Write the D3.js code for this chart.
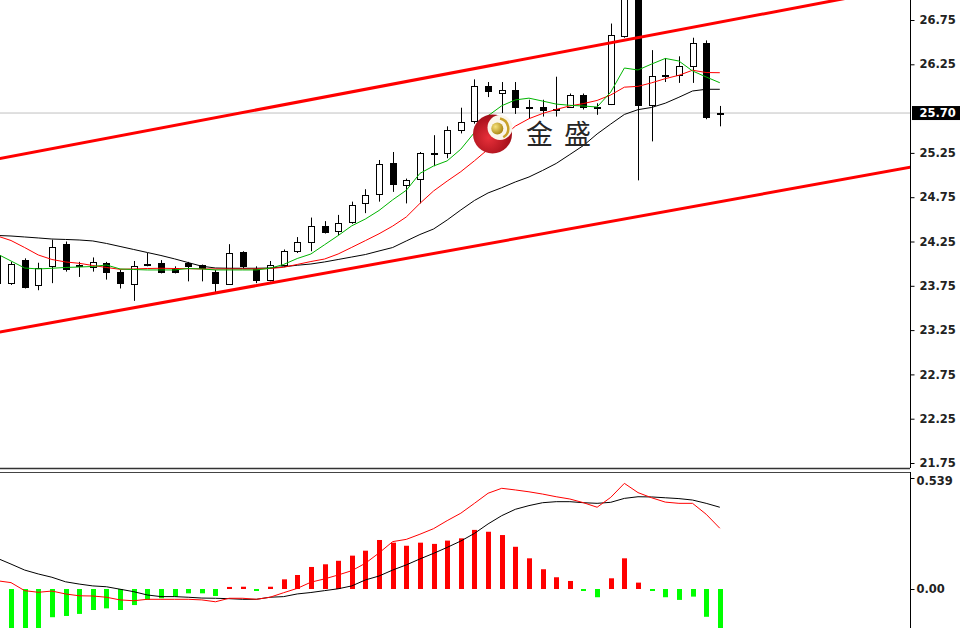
<!DOCTYPE html>
<html><head><meta charset="utf-8">
<script src="https://cdn.jsdelivr.net/npm/d3@7/dist/d3.min.js"></script>
<style>body{margin:0;background:#fff;} svg{display:block;}</style>
</head><body>
<svg id="c" width="960" height="628"></svg>
<script>
// ---- data (bar index -1 is the partly visible bar at the left edge) ----
const barIndex = d3.range(-1, 53);
const opens  = [24.10,23.78,24.04,23.76,23.97,24.22,23.98,23.96,24.01,23.91,23.77,23.98,24.01,23.95,24.01,23.98,23.91,23.77,24.13,23.94,23.82,23.99,24.14,24.25,24.42,24.37,24.47,24.68,24.79,25.14,24.89,24.95,25.24,25.25,25.51,25.61,26.00,25.93,25.96,25.77,25.77,25.73,25.77,25.90,25.77,25.80,26.57,27.10,25.79,26.12,26.13,26.23,26.49,25.69];
const highs  = [24.13,24.02,24.06,24.01,24.27,24.25,24.02,24.07,24.02,23.93,24.03,24.12,24.04,23.97,24.02,23.99,23.93,24.22,24.14,23.97,24.03,24.16,24.30,24.52,24.48,24.55,24.70,24.84,25.17,25.26,24.96,25.26,25.45,25.55,25.76,26.08,26.05,26.05,26.05,25.85,25.85,26.11,25.92,25.92,25.81,26.71,27.25,27.20,26.41,26.32,26.34,26.55,26.52,25.78];
const lows   = [23.75,23.76,23.72,23.70,23.78,23.91,23.85,23.91,23.82,23.72,23.58,23.97,23.89,23.89,23.80,23.80,23.68,23.76,23.95,23.78,23.80,23.97,24.12,24.14,24.34,24.32,24.45,24.57,24.70,24.81,24.68,24.68,25.10,25.19,25.47,25.58,25.88,25.70,25.69,25.64,25.66,25.66,25.76,25.74,25.68,25.79,26.55,24.94,25.38,26.05,26.04,26.04,25.63,25.55];
const closes = [23.78,24.00,23.74,23.95,24.19,23.94,23.97,24.02,23.91,23.78,23.97,24.00,23.91,23.91,23.97,23.95,23.78,24.12,23.97,23.82,23.99,24.14,24.25,24.42,24.36,24.46,24.66,24.77,25.13,24.90,24.94,25.25,25.25,25.51,25.60,26.00,25.95,25.96,25.77,25.76,25.73,25.75,25.90,25.77,25.76,26.58,27.10,25.79,26.12,26.13,26.23,26.49,25.66,25.70];
// moving averages
const maGreen = [24.109,24.030,23.951,23.940,23.948,23.957,23.962,23.968,23.985,23.940,23.934,23.929,23.929,23.929,23.945,23.940,23.929,23.929,23.929,23.929,23.948,23.991,24.058,24.109,24.213,24.317,24.427,24.504,24.600,24.720,24.828,25.019,25.102,25.160,25.292,25.480,25.669,25.782,25.848,25.868,25.835,25.801,25.787,25.779,25.768,25.937,26.208,26.186,26.253,26.316,26.287,26.175,26.107,26.042];
const maRed   = [24.312,24.261,24.182,24.098,24.047,24.019,24.004,23.979,23.957,23.936,23.940,23.945,23.948,23.945,23.943,23.940,23.940,23.940,23.940,23.940,23.945,23.959,23.991,24.024,24.052,24.109,24.184,24.260,24.337,24.424,24.527,24.680,24.820,24.932,25.038,25.161,25.291,25.418,25.552,25.636,25.695,25.741,25.780,25.807,25.842,25.904,25.992,26.001,26.041,26.088,26.126,26.183,26.157,26.155];
const maBlack = [24.318,24.312,24.301,24.290,24.278,24.273,24.267,24.256,24.228,24.194,24.160,24.126,24.092,24.054,24.012,23.971,23.951,23.948,23.948,23.948,23.951,23.965,23.982,23.996,24.019,24.047,24.075,24.103,24.143,24.182,24.256,24.329,24.391,24.493,24.606,24.713,24.798,24.857,24.922,24.978,25.052,25.131,25.232,25.334,25.464,25.576,25.684,25.738,25.763,25.811,25.878,25.949,25.968,25.968];
// MACD panel
const macdHist = [-0.272,-0.272,-0.248,-0.209,-0.137,-0.131,-0.121,-0.102,-0.094,-0.102,-0.078,-0.053,-0.045,-0.037,-0.021,-0.021,-0.034,0.010,0.011,-0.005,0.011,0.047,0.068,0.107,0.120,0.137,0.162,0.186,0.238,0.225,0.210,0.225,0.219,0.235,0.246,0.287,0.278,0.262,0.205,0.149,0.096,0.057,0.039,-0.008,-0.040,0.052,0.149,0.031,-0.008,-0.040,-0.053,-0.037,-0.135,-0.272];
const macdRed  = [0.040,0.031,-0.008,-0.016,-0.010,-0.024,-0.033,-0.034,-0.040,-0.053,-0.057,-0.050,-0.050,-0.050,-0.050,-0.053,-0.062,-0.045,-0.045,-0.050,-0.040,-0.018,0.003,0.033,0.049,0.068,0.089,0.125,0.175,0.230,0.241,0.266,0.293,0.332,0.368,0.416,0.465,0.489,0.481,0.472,0.461,0.448,0.437,0.419,0.397,0.445,0.513,0.468,0.443,0.422,0.416,0.416,0.363,0.295];
const macdBlack= [0.149,0.121,0.092,0.073,0.057,0.035,0.024,0.015,0.011,-0.001,-0.013,-0.029,-0.037,-0.037,-0.040,-0.044,-0.045,-0.047,-0.050,-0.050,-0.040,-0.037,-0.024,-0.017,-0.008,0.001,0.015,0.044,0.063,0.092,0.117,0.146,0.173,0.202,0.233,0.270,0.316,0.356,0.387,0.405,0.419,0.424,0.424,0.419,0.416,0.421,0.440,0.448,0.447,0.443,0.439,0.432,0.416,0.397];
// trend channel (bar index, price)
const upperChannel = [{i:-1, p:25.182},{i:66, p:27.133}];
const lowerChannel = [{i:-1, p:23.224},{i:66, p:25.089}];
const priceTicks = [26.75,26.25,25.25,24.75,24.25,23.75,23.25,22.75,22.25,21.75];
const lastPrice = 25.70;
const macdTicks = [0.539, 0];

// ---- scales ----
const svg = d3.select('#c');
const x = d3.scaleLinear().domain([0,52]).range([11,719.8]);
const y = d3.scaleLinear().domain([21.75,26.75]).range([463,20]);
const ym = d3.scaleLinear().domain([0,0.539]).range([589,478]);
const AX = 910;

const defs = svg.append('defs');
defs.append('clipPath').attr('id','clipMain').append('rect').attr('x',0).attr('y',0).attr('width',AX).attr('height',468);
defs.append('clipPath').attr('id','clipMacd').append('rect').attr('x',0).attr('y',473).attr('width',AX).attr('height',155);
const rg = defs.append('radialGradient').attr('id','redG').attr('cx','40%').attr('cy','60%').attr('r','65%');
rg.append('stop').attr('offset','0%').attr('stop-color','#e8303a');
rg.append('stop').attr('offset','100%').attr('stop-color','#9a0a14');
const gg = defs.append('radialGradient').attr('id','goldG').attr('cx','35%').attr('cy','35%').attr('r','70%');
gg.append('stop').attr('offset','0%').attr('stop-color','#f6e27a');
gg.append('stop').attr('offset','100%').attr('stop-color','#a88410');

const data = barIndex.map((i,k)=>({i, o:opens[k], h:highs[k], l:lows[k], c:closes[k]}));

// ---- main panel ----
const main = svg.append('g').attr('clip-path','url(#clipMain)');
main.append('line').attr('x1',0).attr('x2',AX).attr('y1',y(lastPrice)).attr('y2',y(lastPrice))
  .attr('stroke','#c0c0c0').attr('stroke-width',1);

const cg = main.append('g');
data.forEach(d=>{
  const X = Math.round(x(d.i));
  cg.append('line').attr('x1',X+0.5).attr('x2',X+0.5).attr('y1',y(d.h)).attr('y2',y(d.l))
    .attr('stroke','#000').attr('stroke-width',1);
  const top = Math.round(y(Math.max(d.o,d.c))), bot = Math.round(y(Math.min(d.o,d.c)));
  if (bot - top < 1) {
    cg.append('line').attr('x1',X-3).attr('x2',X+4).attr('y1',top+0.5).attr('y2',top+0.5)
      .attr('stroke','#000').attr('stroke-width',1);
  } else {
    cg.append('rect').attr('x',X-2.5).attr('y',top+0.5).attr('width',6).attr('height',bot-top)
      .attr('fill', d.c>=d.o ? '#fff' : '#000').attr('stroke','#000').attr('stroke-width',1);
  }
});

const line = d3.line().x((d,k)=>x(barIndex[k])).y(d=>y(d));
main.append('path').attr('d',line(maBlack)).attr('fill','none').attr('stroke','#000').attr('stroke-width',1);
main.append('path').attr('d',line(maRed)).attr('fill','none').attr('stroke','#ff0000').attr('stroke-width',1);
main.append('path').attr('d',line(maGreen)).attr('fill','none').attr('stroke','#00b400').attr('stroke-width',1);

const chLine = d3.line().x(d=>x(d.i)).y(d=>y(d.p));
[upperChannel, lowerChannel].forEach(ch=>{
  main.append('path').attr('d',chLine(ch)).attr('fill','none').attr('stroke','#ff0000').attr('stroke-width',3);
});

// logo watermark
const logo = svg.append('g');
logo.append('circle').attr('cx',492.5).attr('cy',134).attr('r',19.5).attr('fill','url(#redG)');
logo.append('circle').attr('cx',500).attr('cy',127.5).attr('r',12.5).attr('fill','#fbf6ea');
logo.append('path').attr('d',d3.arc()({innerRadius:9,outerRadius:11.5,startAngle:0.2,endAngle:2.6}))
  .attr('transform','translate(498,128.5)').attr('fill','#c9a22a');
logo.append('circle').attr('cx',497.3).attr('cy',128.5).attr('r',6).attr('fill','url(#goldG)');
logo.append('text').attr('x',526).attr('y',144).attr('font-family','"Noto Sans CJK SC"').attr('font-size',27)
  .attr('letter-spacing',11).attr('fill','#262626').text('金盛');

// ---- MACD panel ----
const mg = svg.append('g').attr('clip-path','url(#clipMacd)');
macdHist.forEach((v,k)=>{
  const X = Math.round(x(barIndex[k]));
  let y0 = ym(Math.max(v,0)), y1 = ym(Math.min(v,0));
  if (y1 - y0 < 2) { if (v>=0) y0 = y1-2; else y1 = y0+2; }
  mg.append('rect').attr('x',X-2).attr('y',y0).attr('width',5).attr('height',y1-y0)
    .attr('fill', v>=0 ? '#ff0000' : '#00ff00');
});
const mline = d3.line().x((d,k)=>x(barIndex[k])).y(d=>ym(d));
mg.append('path').attr('d',mline(macdBlack)).attr('fill','none').attr('stroke','#000').attr('stroke-width',1);
mg.append('path').attr('d',mline(macdRed)).attr('fill','none').attr('stroke','#ff0000').attr('stroke-width',1);

// ---- frames and axes ----
svg.append('line').attr('x1',0).attr('x2',AX).attr('y1',468.5).attr('y2',468.5).attr('stroke','#333').attr('stroke-width',1.5);
svg.append('line').attr('x1',0).attr('x2',AX).attr('y1',472.5).attr('y2',472.5).attr('stroke','#444').attr('stroke-width',1);
svg.append('line').attr('x1',AX+0.5).attr('x2',AX+0.5).attr('y1',0).attr('y2',468).attr('stroke','#000');
svg.append('line').attr('x1',AX+0.5).attr('x2',AX+0.5).attr('y1',472).attr('y2',628).attr('stroke','#000');

const pAxis = svg.append('g').attr('transform',`translate(${AX+0.5},0)`)
  .call(d3.axisRight(y).tickValues(priceTicks).tickFormat(d3.format('.2f')).tickSize(4).tickPadding(5));
pAxis.select('.domain').remove();
pAxis.selectAll('text').attr('font-family','"DejaVu Sans"').attr('font-size',11.5).attr('font-weight','bold').attr('fill','#222');
pAxis.selectAll('line').attr('stroke','#000');

// last price box
svg.append('rect').attr('x',AX+2).attr('y',y(lastPrice)-7).attr('width',48).attr('height',14).attr('fill','#000');
svg.append('text').attr('x',AX+9.5).attr('y',y(lastPrice)).attr('dy','0.36em').attr('font-family','"DejaVu Sans"')
  .attr('font-size',11.5).attr('font-weight','bold').attr('fill','#fff').text(d3.format('.2f')(lastPrice));

const mAxis = svg.append('g').attr('transform',`translate(${AX+0.5},0)`)
  .call(d3.axisRight(ym).tickValues(macdTicks).tickFormat(d=> d===0 ? '0.00' : d3.format('.3f')(d)).tickSize(4).tickPadding(2));
mAxis.select('.domain').remove();
mAxis.selectAll('text').attr('font-family','"DejaVu Sans"').attr('font-size',11.5).attr('font-weight','bold').attr('fill','#222');
mAxis.selectAll('.tick').filter(d=>d>0).select('text').attr('dy','0.6em');
mAxis.selectAll('line').attr('stroke','#000');
</script>
</body></html>
